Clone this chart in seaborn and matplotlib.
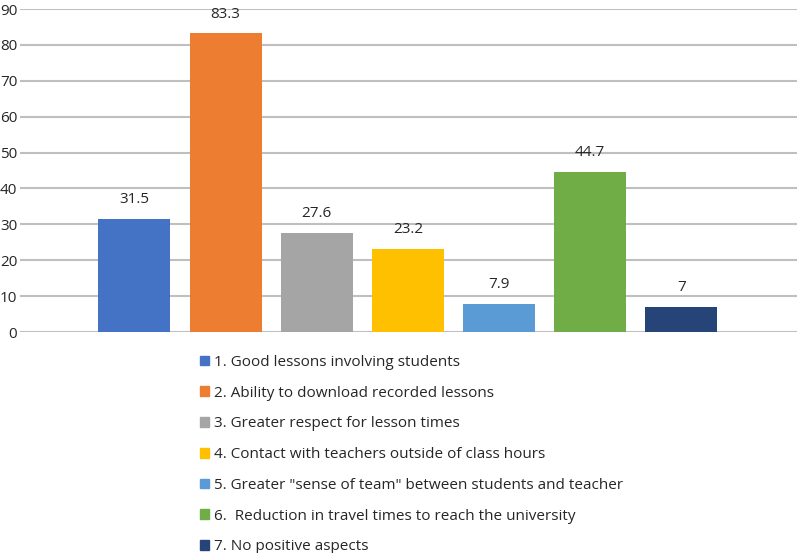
import numpy as np
import pandas as pd
import seaborn as sns
import matplotlib.pyplot as plt

labels = [
    "1. Good lessons involving students",
    "2. Ability to download recorded lessons",
    "3. Greater respect for lesson times",
    "4. Contact with teachers outside of class hours",
    "5. Greater \"sense of team\" between students and teacher",
    "6.  Reduction in travel times to reach the university",
    "7. No positive aspects",
]
values = [31.5, 83.3, 27.6, 23.2, 7.9, 44.7, 7]
value_text = ["31.5", "83.3", "27.6", "23.2", "7.9", "44.7", "7"]
colors = ["#4472C4", "#ED7D31", "#A5A5A5", "#FFC000", "#5B9BD5", "#70AD47", "#264478"]
yticks = [0, 10, 20, 30, 40, 50, 60, 70, 80, 90]

df = pd.DataFrame({"aspect": labels, "pct": values})

sns.set_style("white")
plt.rcParams["font.family"] = ["Open Sans", "DejaVu Sans"]

fig = plt.figure(figsize=(8, 5.53), dpi=100)
ax = fig.add_axes([0.025, 0.3996, 0.971, 0.5841])

sns.barplot(data=df, x="aspect", y="pct", hue="aspect", palette=colors,
            width=0.79, dodge=False, legend=False, ax=ax, saturation=1,
            linewidth=0)

for i, (v, t) in enumerate(zip(values, value_text)):
    ax.text(i, v + 3.2, t, ha="center", va="bottom", fontsize=11, color="#262626")

ax.set_xlim(-1.256, 7.267)
ax.set_ylim(0, 90)
ax.set_yticks(yticks)
ax.set_yticklabels([str(y) for y in yticks], fontsize=11, color="#262626")
ax.set_xticks([])
ax.set_xlabel("")
ax.set_ylabel("")
ax.tick_params(axis="y", length=0, pad=2)
ax.yaxis.grid(True, color="#BFBFBF", linewidth=1.5)
ax.set_axisbelow(True)
for s in ax.spines.values():
    s.set_visible(False)

handles = [plt.Rectangle((0, 0), 1, 1, color=c) for c in colors]
fig.legend(handles, labels, loc="upper left", bbox_to_anchor=(0.24, 0.372),
           frameon=False, fontsize=11, handlelength=0.6, handleheight=0.6,
           handletextpad=0.35, labelspacing=1.03, borderpad=0, labelcolor="#262626")

fig.savefig("out.png", dpi=100)
